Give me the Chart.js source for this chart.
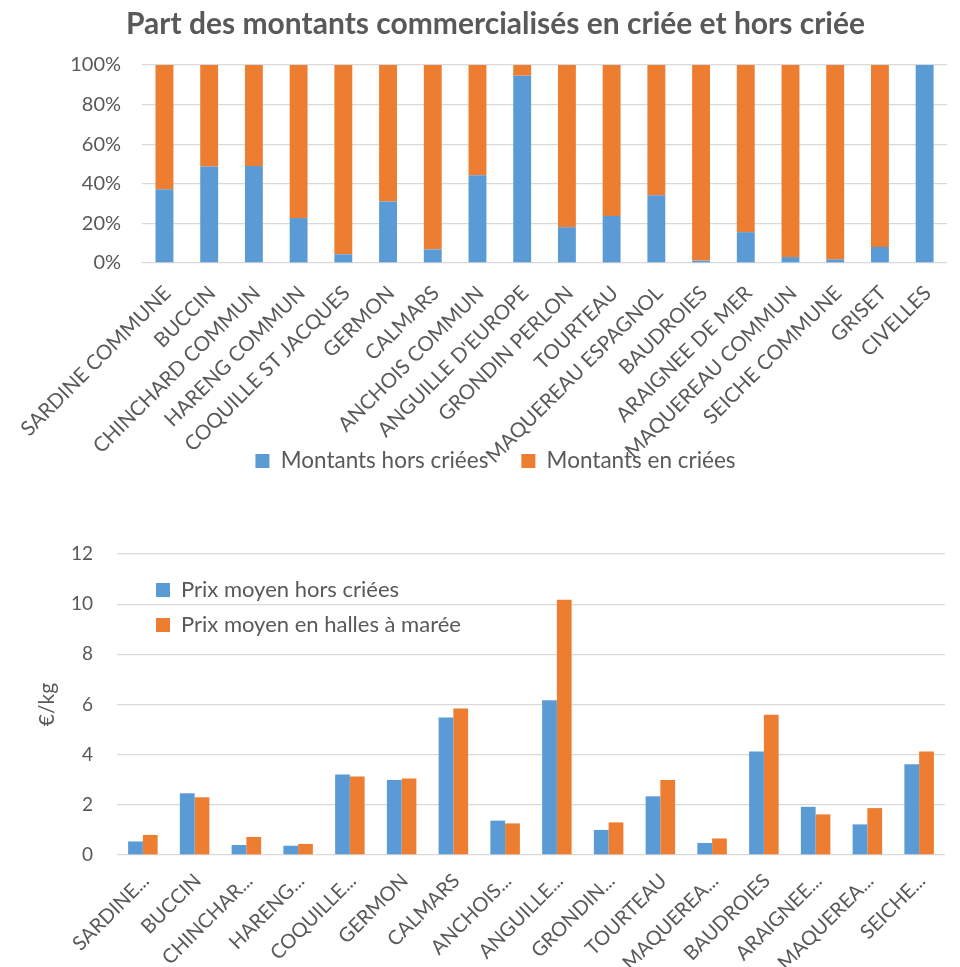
<!DOCTYPE html>
<html><head><meta charset="utf-8">
<script src="https://cdn.jsdelivr.net/npm/chart.js@4.4.1/dist/chart.umd.min.js"></script>
<style>
html,body{margin:0;padding:0;background:#fff;}
#c1{position:absolute;left:0;top:0;}
#c2{position:absolute;left:0;top:490px;}
</style></head><body>
<canvas id="c1" width="960" height="490" style="width:960px;height:490px"></canvas>
<canvas id="c2" width="960" height="477" style="width:960px;height:477px"></canvas>
<script>
// ---- Data: top chart (share of amounts, %) ----
const speciesTop = ["SARDINE COMMUNE","BUCCIN","CHINCHARD COMMUN","HARENG COMMUN","COQUILLE ST JACQUES","GERMON","CALMARS","ANCHOIS COMMUN","ANGUILLE D'EUROPE","GRONDIN PERLON","TOURTEAU","MAQUEREAU ESPAGNOL","BAUDROIES","ARAIGNEE DE MER","MAQUEREAU COMMUN","SEICHE COMMUNE","GRISET","CIVELLES"];
const montantsHorsCriees = [37.2, 48.8, 49.0, 22.7, 4.4, 31.0, 6.9, 44.3, 94.6, 18.1, 23.8, 34.2, 1.2, 15.6, 3.0, 1.8, 8.1, 100];
const montantsEnCriees   = [62.8, 51.2, 51.0, 77.3, 95.6, 69.0, 93.1, 55.7, 5.4, 81.9, 76.2, 65.8, 98.8, 84.4, 97.0, 98.2, 91.9, 0];

// ---- Data: bottom chart (average price, €/kg) ----
const speciesBottom = ["SARDINE COMMUNE","BUCCIN","CHINCHARD COMMUN","HARENG COMMUN","COQUILLE ST JACQUES","GERMON","CALMARS","ANCHOIS COMMUN","ANGUILLE D'EUROPE","GRONDIN PERLON","TOURTEAU","MAQUEREAU ESPAGNOL","BAUDROIES","ARAIGNEE DE MER","MAQUEREAU COMMUN","SEICHE COMMUNE"];
const bottomTickLabels = ["SARDINE...","BUCCIN","CHINCHAR...","HARENG...","COQUILLE...","GERMON","CALMARS","ANCHOIS...","ANGUILLE...","GRONDIN...","TOURTEAU","MAQUEREA...","BAUDROIES","ARAIGNEE...","MAQUEREA...","SEICHE..."];
const prixHorsCriees = [0.54, 2.46, 0.40, 0.37, 3.21, 2.99, 5.48, 1.37, 6.17, 1.00, 2.34, 0.48, 4.13, 1.92, 1.22, 3.62];
const prixHallesMaree = [0.80, 2.30, 0.72, 0.44, 3.13, 3.05, 5.84, 1.26, 10.18, 1.30, 2.99, 0.66, 5.59, 1.62, 1.87, 4.13];

const BLUE = '#5B9BD5', ORANGE = '#ED7D31', TXT = '#595959', GRID = '#D9D9D9';
Chart.defaults.font.family = 'Lato';
Chart.defaults.color = TXT;

// place legend boxes at fixed positions after layout; let x labels run over the legend area
const legendPlace = {
  id: 'legendPlace',
  afterLayout(chart, args, opts) {
    const lg = chart.legend;
    if (opts.extendX && chart.scales.x) chart.scales.x.bottom = chart.height;
    if (!lg) return;
    const w = lg.right - lg.left, h = lg.bottom - lg.top;
    if (opts.left !== undefined) { lg.left = opts.left; lg.right = lg.left + w; }
    if (opts.top !== undefined) { lg.top = opts.top; lg.bottom = lg.top + h; }
  }
};

const TOP_AREA_BOTTOM = 263;

new Chart(document.getElementById('c1'), {
  type: 'bar',
  data: {
    labels: speciesTop,
    datasets: [
      { label: 'Montants hors criées', data: montantsHorsCriees, backgroundColor: BLUE },
      { label: 'Montants en criées', data: montantsEnCriees, backgroundColor: ORANGE }
    ]
  },
  plugins: [legendPlace],
  options: {
    responsive: false, animation: false, devicePixelRatio: 1,
    layout: { padding: { left: 28, right: -3, top: 0, bottom: 0 } },
    datasets: { bar: { categoryPercentage: 1, barPercentage: 0.4 } },
    plugins: {
      title: { display: true, text: 'Part des montants commercialisés en criée et hors criée',
               font: { size: 30, weight: 'bold' }, color: TXT, padding: { top: 6, bottom: 23 } },
      legend: { position: 'bottom',
                labels: { boxWidth: 14, boxHeight: 14, padding: 33, font: { size: 22.5 }, color: TXT } },
      legendPlace: { top: 461 - 33 - 11.25, extendX: true },
      tooltip: { enabled: false }
    },
    scales: {
      x: { stacked: true, grid: { display: false, drawTicks: false }, border: { display: false },
           ticks: { autoSkip: false, minRotation: 45, maxRotation: 45, font: { size: 20.5 }, color: TXT, padding: 18, labelOffset: 3 },
           afterFit(s) { s.height = s.chart.height - TOP_AREA_BOTTOM - s.chart.legend.height; } },
      y: { stacked: true, min: 0, max: 100,
           ticks: { stepSize: 20, callback: v => v + '%', font: { size: 20 }, color: TXT, padding: 21 },
           grid: { color: GRID, lineWidth: 1.3, drawTicks: false }, border: { display: false },
           afterFit(s) { s.width = 113; } }
    }
  }
});

new Chart(document.getElementById('c2'), {
  type: 'bar',
  data: {
    labels: speciesBottom,
    datasets: [
      { label: 'Prix moyen hors criées', data: prixHorsCriees, backgroundColor: BLUE },
      { label: 'Prix moyen en halles à marée', data: prixHallesMaree, backgroundColor: ORANGE }
    ]
  },
  plugins: [legendPlace],
  options: {
    responsive: false, animation: false, devicePixelRatio: 1,
    layout: { padding: { left: 0, right: 15, top: 64, bottom: 0 } },
    datasets: { bar: { categoryPercentage: 0.57, barPercentage: 1 } },
    plugins: {
      legend: { position: 'chartArea', align: 'start',
                labels: { boxWidth: 14, boxHeight: 14, padding: 13, font: { size: 22 }, color: TXT } },
      legendPlace: { left: 156 - 13, top: 64 + 12 },
      tooltip: { enabled: false }
    },
    scales: {
      x: { grid: { display: false, drawTicks: false }, border: { display: false },
           ticks: { autoSkip: false, minRotation: 45, maxRotation: 45, font: { size: 20 }, color: TXT, padding: 14, labelOffset: 3,
                    callback: (v, i) => bottomTickLabels[i] },
           afterFit(s) { s.height = 112; } },
      y: { min: 0, max: 12,
           ticks: { stepSize: 2, font: { size: 19 }, color: TXT, padding: 24 },
           grid: { color: GRID, lineWidth: 1.3, drawTicks: false }, border: { display: false },
           title: { display: true, text: '€/kg', font: { size: 21 }, color: TXT, padding: { top: 35 } },
           afterFit(s) { s.width = 117; } }
    }
  }
});
</script>
</body></html>
